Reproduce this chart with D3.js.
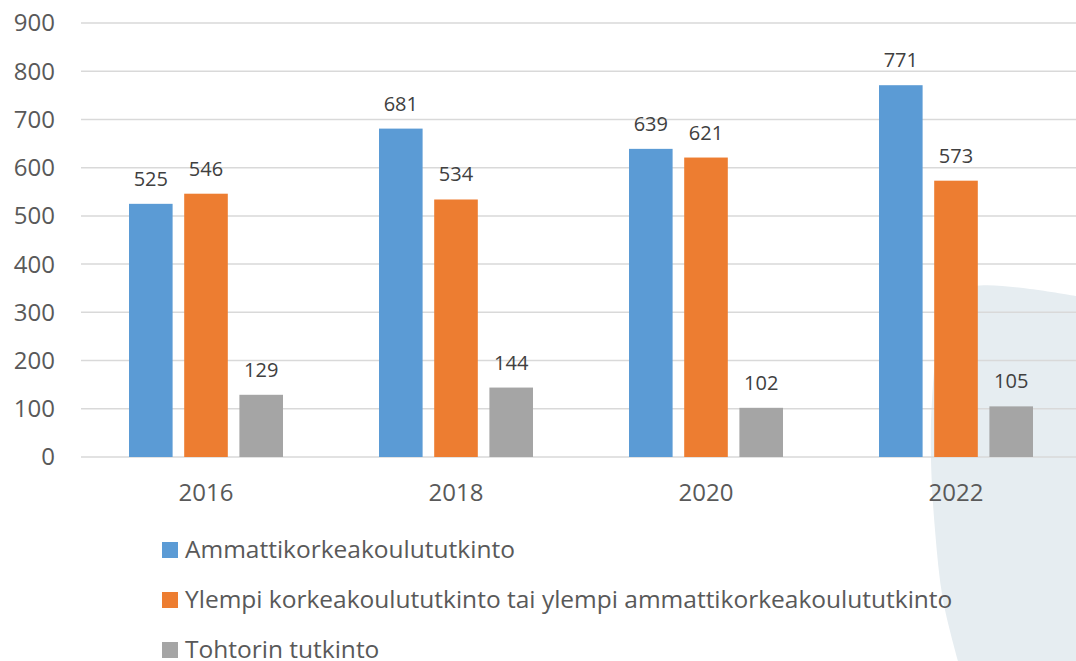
<!DOCTYPE html>
<html lang="fi">
<head>
<meta charset="UTF-8">
<title>Tutkinnot</title>
<script src="https://cdn.jsdelivr.net/npm/d3@7"></script>
<style>
    body { margin: 0; background: #fff; }
    svg { display: block; font-family: "Open Sans", "Noto Sans", sans-serif; }
    .grid line { stroke: #d9d9d9; stroke-width: 1.5; }
    .tick-label { fill: #595959; font-size: 24px; }
    .val { fill: #404040; font-size: 20px; }
    .legend text { fill: #595959; font-size: 24.5px; }
</style>
</head>
<body>
<script>
const years = ["2016", "2018", "2020", "2022"];
const series = [
    "Ammattikorkeakoulututkinto",
    "Ylempi korkeakoulututkinto tai ylempi ammattikorkeakoulututkinto",
    "Tohtorin tutkinto"
];
const amk = [525, 681, 639, 771];
const ylempi = [546, 534, 621, 573];
const tohtori = [129, 144, 102, 105];
const yTicks = [0, 100, 200, 300, 400, 500, 600, 700, 800, 900];
const colors = ["#5b9bd5", "#ed7d31", "#a5a5a5"];

const width = 1076, height = 661;
const values = [amk, ylempi, tohtori];

const svg = d3.select("body").append("svg")
    .attr("width", width)
    .attr("height", height);

// decorative background blob in the lower right corner
const blob = [[1076, 296], [1030, 289], [980, 285.5], [955, 292], [940, 330],
              [932, 400], [931, 460], [935, 530], [943, 600], [958, 661]];
svg.append("path")
    .attr("d", d3.line().curve(d3.curveCatmullRom.alpha(0.5))(blob) + "L1076,661Z")
    .attr("fill", "#e6edf1");

const y = d3.scaleLinear().domain([0, 900]).range([457, 23]);
const x0 = d3.scaleBand().domain(years).range([81, 1081]);
const x1 = d3.scaleBand().domain(d3.range(series.length)).range([48, 202]).paddingInner(0.21);

// gridlines
svg.append("g").attr("class", "grid")
    .selectAll("line")
    .data(yTicks)
    .join("line")
    .attr("x1", 81).attr("x2", width)
    .attr("y1", d => y(d)).attr("y2", d => y(d));

svg.append("g")
    .selectAll("text")
    .data(yTicks)
    .join("text")
    .attr("class", "tick-label")
    .attr("x", 55)
    .attr("y", d => y(d))
    .attr("dy", "0.35em")
    .attr("text-anchor", "end")
    .text(d => d);

// bars
const groups = svg.append("g")
    .selectAll("g")
    .data(years)
    .join("g")
    .attr("transform", d => `translate(${x0(d)},0)`);

groups.selectAll("rect")
    .data((d, i) => values.map((v, s) => ({ s, v: v[i] })))
    .join("rect")
    .attr("x", d => x1(d.s))
    .attr("width", x1.bandwidth())
    .attr("y", d => y(d.v))
    .attr("height", d => y(0) - y(d.v))
    .attr("fill", d => colors[d.s]);

groups.selectAll("text.val")
    .data((d, i) => values.map((v, s) => ({ s, v: v[i] })))
    .join("text")
    .attr("class", "val")
    .attr("x", d => x1(d.s) + x1.bandwidth() / 2)
    .attr("y", d => y(d.v) - 18)
    .attr("text-anchor", "middle")
    .text(d => d.v);

groups.append("text")
    .attr("class", "tick-label")
    .attr("x", x0.bandwidth() / 2)
    .attr("y", 501)
    .attr("text-anchor", "middle")
    .text(d => d);

// legend
const legend = svg.append("g").attr("class", "legend")
    .selectAll("g")
    .data(series)
    .join("g")
    .attr("transform", (d, i) => `translate(162,${550 + i * 50})`);

legend.append("rect")
    .attr("x", 0).attr("y", -8)
    .attr("width", 16).attr("height", 16)
    .attr("fill", (d, i) => colors[i]);

legend.append("text")
    .attr("x", 23)
    .attr("y", 8)
    .text(d => d);
</script>
</body>
</html>
